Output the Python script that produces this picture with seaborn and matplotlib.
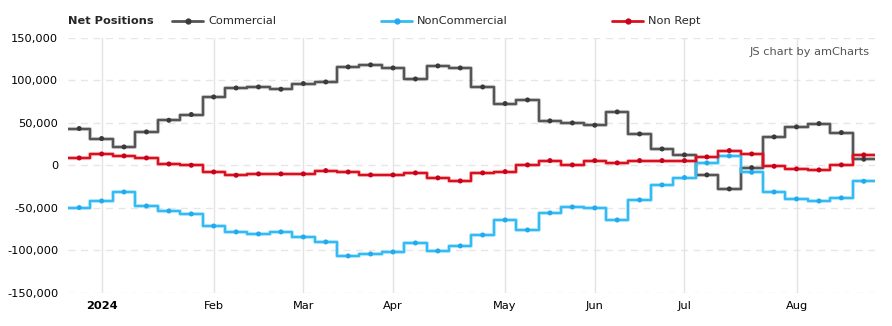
import numpy as np
import pandas as pd
import matplotlib
matplotlib.use("Agg")
import matplotlib.pyplot as plt
import matplotlib.patheffects as pe
from matplotlib.lines import Line2D
import seaborn as sns

# Weekly report dates (Tuesdays), Dec 26 2023 .. Aug 27 2024
dates = pd.date_range("2023-12-26", "2024-08-27", freq="7D")

commercial = [43300, 31500, 21600, 39300, 53000, 59800, 80500, 91100, 92300, 89600,
              96300, 98200, 115900, 118300, 114700, 101700, 117100, 114700, 92300, 72700,
              77000, 52300, 49900, 47200, 62900, 36900, 19200, 12200, -11400, -27900,
              -2800, 33400, 45200, 49100, 38500, 7100]
noncommercial = [-49900, -42100, -31500, -48000, -53900, -57400, -71600, -78600, -81000, -78600,
                 -84500, -90400, -106900, -104600, -102200, -91600, -101000, -95100, -82200, -64500,
                 -76300, -56200, -49200, -50300, -64500, -40900, -23200, -14500, 2800, 11000,
                 -8300, -31500, -39700, -42100, -38500, -18900]
nonrept = [8600, 13300, 11000, 8600, 1500, 0, -7900, -11800, -10200, -10200,
           -10200, -6300, -7900, -11400, -11400, -9000, -14900, -18500, -9000, -7500,
           400, 5500, 400, 5500, 2800, 5500, 5500, 5500, 9800, 17300,
           13300, -1200, -4300, -5500, 400, 12200]

series_names = ["Commercial", "NonCommercial", "Non Rept"]
series_values = [commercial, noncommercial, nonrept]
line_colors = ["#555555", "#33bbf5", "#d9101f"]
marker_colors = ["#3a3a3a", "#22aaee", "#c8001a"]

y_ticks = [-150000, -100000, -50000, 0, 50000, 100000, 150000]

sns.set_style("white")
plt.rcParams["font.family"] = ["DejaVu Sans"]

W, H = 892, 326
fig = plt.figure(figsize=(W / 100, H / 100), dpi=100)
ax = fig.add_axes([68 / W, 1 - 292.5 / H, (875 - 68) / W, (292.5 - 38) / H])

n = len(dates)
pos = np.arange(n)

for name, vals, lc, mc in zip(series_names, series_values, line_colors, marker_colors):
    vals = np.asarray(vals, dtype=float)
    # extend step line to half a step beyond first/last points
    xe = np.concatenate([[-0.5], pos, [n - 0.5]])
    ye = np.concatenate([[vals[0]], vals, [vals[-1]]])
    df = pd.DataFrame({"x": xe, "y": ye})
    sns.lineplot(data=df, x="x", y="y", ax=ax, color=lc, linewidth=1.7,
                 drawstyle="steps-mid", estimator=None, sort=False,
                 path_effects=[pe.Stroke(linewidth=3.0, foreground=lc, alpha=0.25), pe.Normal()],
                 zorder=3)
    sns.scatterplot(x=pos, y=vals, ax=ax, color=mc, s=13, edgecolor="none", zorder=4)

ax.set_xlim(-0.5, n - 0.5)
ax.set_ylim(-150000, 150000)

# horizontal dashed grid
ax.set_yticks(y_ticks)
ax.set_yticklabels([f"{v:,}" for v in y_ticks])
for v in y_ticks:
    ax.axhline(v, color="#e6e6e6", linewidth=1, linestyle=(0, (5, 4)), zorder=1)

# month grid at first data point of each month
month_idx = []
month_lab = []
prev = None
for i, d in enumerate(dates):
    key = (d.year, d.month)
    if prev is not None and key != prev:
        month_idx.append(i)
        month_lab.append(str(d.year) if d.month == 1 else d.strftime("%b"))
    prev = key
for i in month_idx:
    ax.axvline(i, color="#e3e3e3", linewidth=1, zorder=1)
ax.set_xticks(month_idx)
ax.set_xticklabels(month_lab)
for t in ax.get_xticklabels():
    if t.get_text().isdigit():
        t.set_fontweight("bold")

ax.tick_params(axis="both", length=0, labelsize=8.2, colors="#000000")
ax.tick_params(axis="y", pad=7)
ax.tick_params(axis="x", pad=6)
ax.set_xlabel("")
ax.set_ylabel("")
for s in ax.spines.values():
    s.set_visible(False)
ax.grid(False)

# legend header
fig.text(68 / W, 1 - 21 / H, "Net Positions", fontsize=8.2, fontweight="bold",
         va="center", ha="left")
leg_x = [172, 381, 612]
for name, lc, mc, lx in zip(series_names, line_colors, marker_colors, leg_x):
    fig.add_artist(Line2D([lx / W, (lx + 31) / W], [1 - 21 / H, 1 - 21 / H],
                          color=lc, linewidth=2, transform=fig.transFigure))
    fig.add_artist(Line2D([(lx + 15.5) / W], [1 - 21 / H], marker="o", markersize=3.5,
                          color=mc, linestyle="none", transform=fig.transFigure))
    fig.text((lx + 36) / W, 1 - 21 / H, name, fontsize=8.2, va="center", ha="left")

fig.text(870 / W, 1 - 52 / H, "JS chart by amCharts", fontsize=8.2, color="#555555",
         va="center", ha="right")

fig.savefig("out.png", dpi=100)
